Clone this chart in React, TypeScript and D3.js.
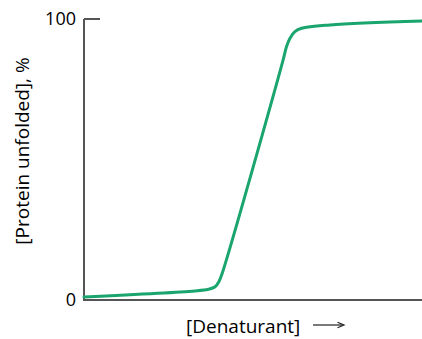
import React from "react";
import * as d3 from "d3";

const denaturant = [0, 32.8, 36.8, 38.8, 39.9, 40.8, 58.9, 59.9, 60.9, 62.4, 64.4, 72.8, 100];
const unfolded = [1.1, 3.2, 3.8, 4.7, 6.5, 9.2, 85.4, 90.1, 93.1, 95.5, 96.7, 97.9, 99.3];
const yTicks = [0, 100];
const xLabel = "[Denaturant]";
const yLabel = "[Protein unfolded], %";

const W = 422;
const H = 339;
const left = 84;
const right = 422;
const top = 19;
const bottom = 300;
const FONT = "'Open Sans', sans-serif";

export default function App() {
  const x = d3.scaleLinear().domain([0, 100]).range([left, right]);
  const y = d3.scaleLinear().domain([0, 100]).range([bottom, top]);
  const pts = denaturant.map((d, i) => [d, unfolded[i]] as [number, number]);
  const line = d3
    .line<[number, number]>()
    .x((d) => x(d[0]))
    .y((d) => y(d[1]))
    .curve(d3.curveCatmullRom.alpha(0.5));

  return (
    <svg width={W} height={H} style={{ position: "absolute", left: 0, top: 0 }}>
      <rect width={W} height={H} fill="#fff" />
      {/* axes */}
      <line x1={left} x2={left} y1={y(100)} y2={bottom} stroke="#555" strokeWidth={2} />
      <line x1={left - 1} x2={right} y1={bottom} y2={bottom} stroke="#555" strokeWidth={2} />
      <line x1={left} x2={left + 16} y1={y(100)} y2={y(100)} stroke="#555" strokeWidth={2} />
      {yTicks.map((t) => (
        <text
          key={t}
          x={76}
          y={y(t)}
          dy="0.36em"
          textAnchor="end"
          fontFamily={FONT}
          fontSize={18}
          fontWeight={500}
          fill="#000"
        >
          {t}
        </text>
      ))}
      <path d={line(pts) ?? ""} fill="none" stroke="#1aa56e" strokeWidth={3} strokeLinejoin="round" strokeLinecap="round" />
      {/* x label */}
      <text x={186} y={333} fontFamily={FONT} fontSize={19} fontWeight={500} fill="#000">
        {xLabel}
      </text>
      <line x1={313} x2={343} y1={325} y2={325} stroke="#222" strokeWidth={1.2} />
      <path d="M337.5,322.3 L344,325 L337.5,327.7" fill="none" stroke="#222" strokeWidth={1.2} />
      {/* y label */}
      <text
        transform={`translate(29,${151}) rotate(-90)`}
        textAnchor="middle"
        fontFamily={FONT}
        fontSize={19}
        fontWeight={500}
        fill="#000"
      >
        {yLabel}
      </text>
    </svg>
  );
}
